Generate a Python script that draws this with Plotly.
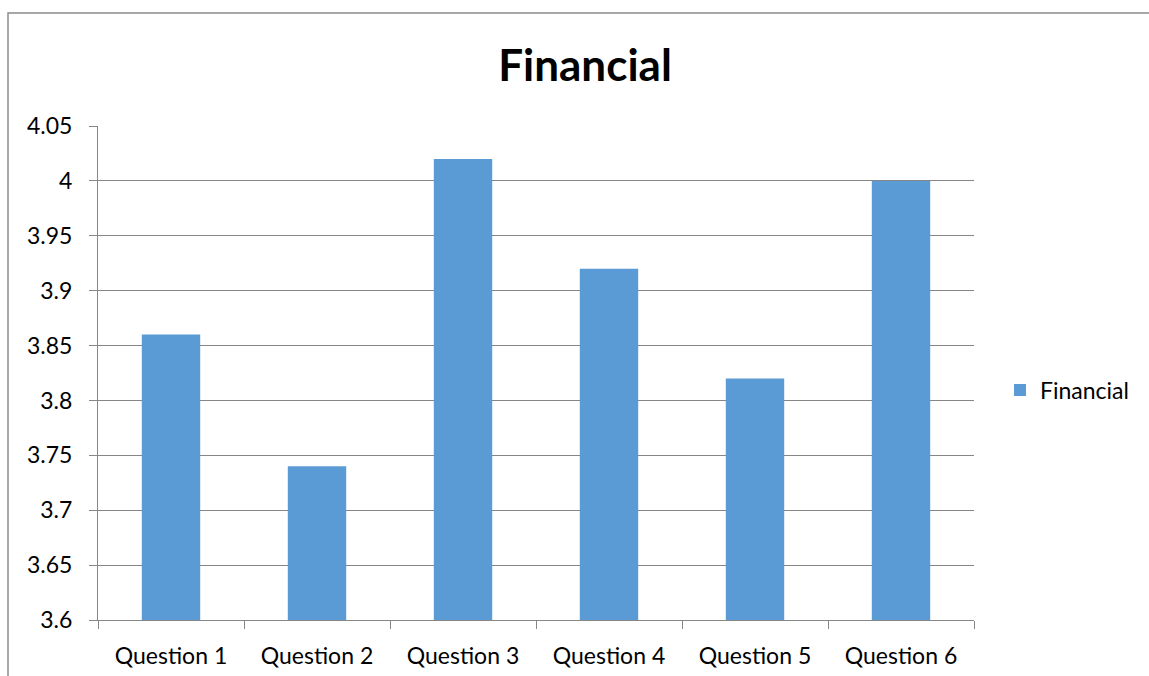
import plotly.graph_objects as go

categories = ["Question 1", "Question 2", "Question 3", "Question 4", "Question 5", "Question 6"]
financial = [3.86, 3.74, 4.02, 3.92, 3.82, 4.00]
y_ticks = [3.6, 3.65, 3.7, 3.75, 3.8, 3.85, 3.9, 3.95, 4.0, 4.05]
y_tick_text = ["3.6", "3.65", "3.7", "3.75", "3.8", "3.85", "3.9", "3.95", "4", "4.05"]

W, H = 1149, 676
L, R, T, B = 98, 175, 126, 56
pw, ph = W - L - R, H - T - B

FONT = "Lato"
GRID = "#868686"
TICK_SIZE = 23

fig = go.Figure(
    go.Bar(
        x=categories,
        y=financial,
        name="Financial",
        marker=dict(color="#5B9BD5", line=dict(width=0)),
        width=0.4,
    )
)

# chart-area frame (left and top edges)
fx = (8 - L) / pw
fy = 1 + (T - 13) / ph
fig.add_shape(
    type="path",
    xref="paper", yref="paper",
    path=f"M {fx} -0.2 L {fx} {fy} L 1.3 {fy}",
    line=dict(color="#8c8c8c", width=1.5),
)

fig.update_layout(
    width=W, height=H,
    margin=dict(l=L, r=R, t=T, b=B, autoexpand=False),
    plot_bgcolor="white",
    paper_bgcolor="white",
    font=dict(family=FONT, color="black", size=TICK_SIZE),
    title=dict(
        text="<b>Financial</b>",
        x=(585 - L) / pw, xref="paper", xanchor="center",
        y=1 - 66 / H, yref="container", yanchor="middle",
        font=dict(family=FONT, size=44, color="black"),
    ),
    showlegend=True,
    legend=dict(
        x=(1000 - L) / pw, xanchor="left",
        y=1 - (390 - T) / ph, yanchor="middle",
        font=dict(family=FONT, size=TICK_SIZE),
        itemwidth=30,
    ),
    bargap=0.6,
)

fig.update_xaxes(
    type="category",
    automargin=False,
    showline=True, linecolor=GRID, linewidth=1,
    ticks="outside", tickson="boundaries", ticklen=8, tickcolor=GRID,
    showgrid=False,
    ticklabelstandoff=15,
    tickfont=dict(family=FONT, size=TICK_SIZE),
)
fig.update_yaxes(
    range=[3.6, 4.05],
    automargin=False,
    tickvals=y_ticks, ticktext=y_tick_text,
    showline=True, linecolor=GRID, linewidth=1,
    ticks="outside", ticklen=8, tickcolor=GRID,
    showgrid=True, gridcolor=GRID, gridwidth=1,
    zeroline=False,
    ticklabelstandoff=12,
    tickfont=dict(family=FONT, size=TICK_SIZE),
)

fig.write_html("out.html")
